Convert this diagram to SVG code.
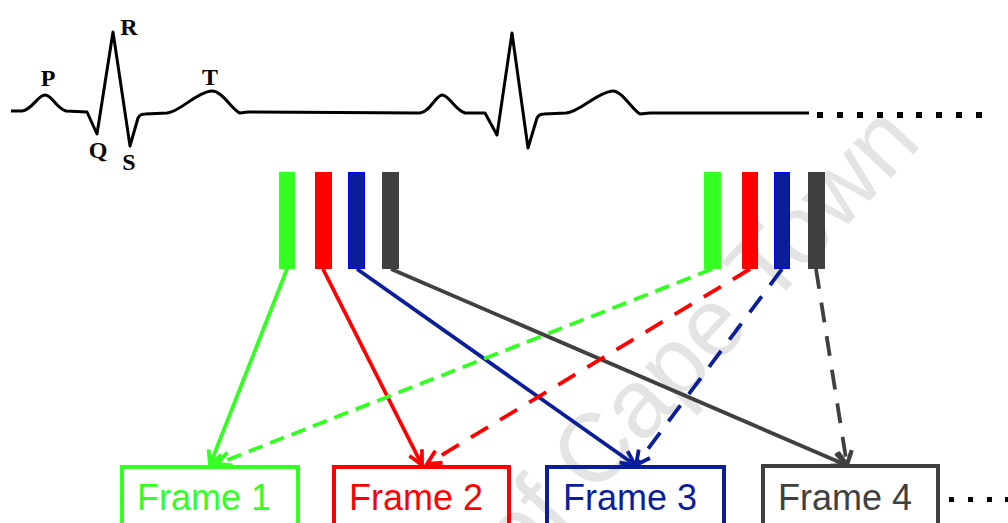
<svg xmlns="http://www.w3.org/2000/svg" width="1008" height="523" viewBox="0 0 1008 523">
<style>
.ecg{fill:none;stroke:#000;stroke-width:3;stroke-linejoin:round}
.lbl{font-family:"Liberation Serif",serif;font-weight:bold;font-size:24px;fill:#000;text-anchor:middle}
.ft{font-family:"Liberation Sans",Arial,sans-serif;font-size:36px;text-anchor:middle}
.box{fill:none;stroke-width:4}
.ln{fill:none;stroke-width:3.8}
.g{stroke:#33ff22}.r{stroke:#ff0000}.b{stroke:#0a1e9a}.k{stroke:#404040}
.dg{stroke-dasharray:15 8}
.dr{stroke-dasharray:20 14}
.wm{font-family:"Liberation Sans",Arial,sans-serif;font-size:97px;fill:#e4e4e4}
</style>
<defs>
<marker id="ag" markerUnits="userSpaceOnUse" markerWidth="20" markerHeight="20" viewBox="0 0 20 20" refX="17" refY="10" orient="auto"><path d="M3,3 L17,10 L3,17" fill="none" stroke="#33ff22" stroke-width="3.8"/></marker>
<marker id="ar" markerUnits="userSpaceOnUse" markerWidth="20" markerHeight="20" viewBox="0 0 20 20" refX="17" refY="10" orient="auto"><path d="M3,3 L17,10 L3,17" fill="none" stroke="#ff0000" stroke-width="3.8"/></marker>
<marker id="ab" markerUnits="userSpaceOnUse" markerWidth="20" markerHeight="20" viewBox="0 0 20 20" refX="17" refY="10" orient="auto"><path d="M3,3 L17,10 L3,17" fill="none" stroke="#0a1e9a" stroke-width="3.8"/></marker>
<marker id="ak" markerUnits="userSpaceOnUse" markerWidth="20" markerHeight="20" viewBox="0 0 20 20" refX="17" refY="10" orient="auto"><path d="M3,3 L17,10 L3,17" fill="none" stroke="#404040" stroke-width="4.2"/></marker>
</defs>
<rect width="1008" height="523" fill="#fff"/>

<text class="wm" transform="translate(520,576) rotate(-47)">of Cape Town</text>

<g id="ecg">
<path class="ecg" d="M11,111 L22,111 C32,110 38,95 45,95 C52,95 56,108 66,111 L87,112 L97,134 L113,32 L130,146 L138,118 Q140,114 145,114 L167,113 C180,112 195,93 211,91 C222,90 232,110 240,113 L248,112 L420,113 C430,112 436,95 442,95 C449,95 455,110 465,113 L485,113 L497,135 L512,33 L528,148 L537,118 Q539,114 544,114 L566,113 C580,112 596,93 612,91 C622,90 632,110 640,114 L650,113 L809,113"/>
<g fill="#000">
<rect x="817" y="112" width="6" height="6"/><rect x="837" y="112" width="6" height="6"/><rect x="857" y="112" width="6" height="6"/><rect x="877" y="112" width="6" height="6"/><rect x="897" y="112" width="6" height="6"/><rect x="916" y="112" width="6" height="6"/><rect x="936" y="112" width="6" height="6"/><rect x="956" y="112" width="6" height="6"/><rect x="976" y="112" width="6" height="6"/>
</g>
<text class="lbl" x="48" y="86">P</text>
<text class="lbl" x="129" y="35">R</text>
<text class="lbl" x="210" y="85">T</text>
<text class="lbl" x="98" y="158">Q</text>
<text class="lbl" x="129" y="170">S</text>
</g>

<g id="bars-left">
<rect x="279" y="172" width="16" height="97" fill="#33ff22"/>
<rect x="315" y="172" width="17" height="97" fill="#ff0000"/>
<rect x="348.5" y="172.5" width="16" height="96" fill="#0a1e9a" stroke="#0000ff" stroke-width="1"/>
<rect x="382" y="172" width="17" height="97" fill="#404040"/>
</g>
<g id="bars-right">
<rect x="704" y="172" width="17" height="97" fill="#33ff22"/>
<rect x="742" y="172" width="16" height="97" fill="#ff0000"/>
<rect x="774.5" y="172.5" width="15" height="96" fill="#0a1e9a" stroke="#0000ff" stroke-width="1"/>
<rect x="808" y="172" width="17" height="97" fill="#404040"/>
</g>

<g id="connectors">
<line class="ln g" x1="287" y1="269" x2="210" y2="465" marker-end="url(#ag)"/>
<line class="ln r" x1="323" y1="269" x2="422" y2="465" marker-end="url(#ar)"/>
<line class="ln b" x1="357" y1="269" x2="635" y2="465" marker-end="url(#ab)"/>
<line class="ln k" x1="391" y1="269" x2="846" y2="465" marker-end="url(#ak)" stroke-width="4"/>
<line class="ln g dg" x1="712" y1="269" x2="217" y2="464" marker-end="url(#ag)"/>
<line class="ln r dr" x1="750" y1="269" x2="427" y2="464" marker-end="url(#ar)"/>
<line class="ln b dr" x1="782" y1="269" x2="636" y2="465" marker-end="url(#ab)"/>
<line class="ln k dr" x1="816" y1="269" x2="847" y2="465" marker-end="url(#ak)" stroke-width="4"/>
</g>

<g id="frame1">
<rect class="box" x="122" y="467" width="176" height="70" stroke="#33ff22"/>
<text class="ft" x="204" y="510" fill="#33ff22">Frame 1</text>
</g>
<g id="frame2">
<rect class="box" x="334" y="467" width="175" height="70" stroke="#ff0000"/>
<text class="ft" x="416" y="510" fill="#ff0000">Frame 2</text>
</g>
<g id="frame3">
<rect class="box" x="547" y="467" width="177" height="70" stroke="#0a1e9a"/>
<text class="ft" x="630" y="510" fill="#0a1e9a">Frame 3</text>
</g>
<g id="frame4">
<rect class="box" x="763" y="466" width="175" height="70" stroke="#404040"/>
<text class="ft" x="845" y="510" fill="#404040">Frame 4</text>
</g>
<g id="more-frames" fill="#000">
<rect x="949" y="497" width="5" height="5"/><rect x="968" y="497" width="5" height="5"/><rect x="987" y="497" width="5" height="5"/><rect x="1005" y="497" width="5" height="5"/>
</g>
</svg>
